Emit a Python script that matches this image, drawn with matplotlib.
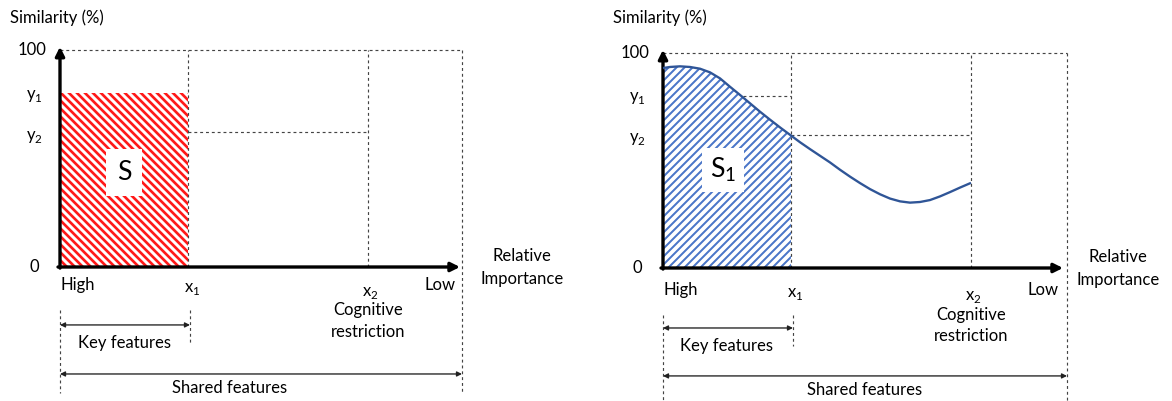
import numpy as np
import matplotlib
matplotlib.use("Agg")
import matplotlib.pyplot as plt
from matplotlib.patches import Rectangle

plt.rcParams['font.family'] = ['Lato', 'DejaVu Sans']
plt.rcParams['mathtext.fontset'] = 'custom'
plt.rcParams['mathtext.rm'] = 'Lato'
plt.rcParams['hatch.linewidth'] = 1.6

# breakpoints on the importance axis and the matching similarity levels
x1, x2 = 32, 77
y1, y2 = 80, 62

# similarity curve (right panel)
curve_x = [0, 1.75, 4.25, 6.75, 9.25, 11.75, 14.25, 16.75, 19.25, 21.75,
           24.25, 26.75, 29.25, 32, 34.25, 36.75, 39.25, 41.75, 44.25, 46.75,
           49.25, 51.75, 54.25, 56.75, 59.25, 61.75, 64.25, 66.75, 69.25,
           71.75, 74.25, 77]
curve_y = [93, 93.5, 93.8, 93.5, 92.7, 91, 88.2, 84.3, 80.5, 76.6,
           72.7, 69.0, 65.4, 61.6, 58.5, 55.3, 52.2, 49.1, 45.7, 42.5,
           39.5, 36.7, 34.3, 32.3, 31, 30.4, 30.7, 31.6, 33.3,
           35.3, 37.4, 39.6]

DPI = 120
W, H = 1172, 401
fig = plt.figure(figsize=(W / DPI, H / DPI), dpi=DPI)

FS = 10
dash = dict(color='#444444', lw=0.7, ls=(0, (2.5, 2.5)), clip_on=False)


def make_axes(px0, py0, px1, py1):
    # axes whose 0..100 box sits on the given pixel corners
    ax = fig.add_axes([px0 / W, 1 - py0 / H, (px1 - px0) / W, (py0 - py1) / H])
    ax.set_xlim(0, 100)
    ax.set_ylim(0, 100)
    ax.axis('off')
    return ax


def frame(ax, p):
    # dashed guide lines
    ax.plot([0, p['xr']], [100, 100], **dash)
    ax.plot([p['xr'], p['xr']], [100, p['bot']], **dash)
    ax.plot([x1, x1], [0, 100], **dash)
    ax.plot([x2, x2], [0, 100], **dash)
    ax.plot([x1, x2], [y2, y2], **dash)
    ax.plot([0, 0], [p['d0'], p['bot']], **dash)
    ax.plot([x1 + 0.5, x1 + 0.5], [p['d0'], p['kd']], **dash)

    # axes arrows
    arr = dict(arrowstyle='-|>', lw=2.0, color='black', mutation_scale=11,
               shrinkA=0, shrinkB=0)
    ax.annotate('', xy=(0, 101.5), xytext=(0, -0.5), arrowprops=arr,
                annotation_clip=False)
    ax.annotate('', xy=(100, 0), xytext=(-0.5, 0), arrowprops=arr,
                annotation_clip=False)

    # span arrows
    span = dict(arrowstyle='<|-|>', lw=0.8, color='#222222', mutation_scale=6,
                shrinkA=0, shrinkB=0)
    ax.annotate('', xy=(0, p['ka']), xytext=(x1 + 0.5, p['ka']),
                arrowprops=span, annotation_clip=False)
    ax.annotate('', xy=(0, p['sa']), xytext=(p['xr'], p['sa']),
                arrowprops=span, annotation_clip=False)

    t = dict(fontsize=FS, ha='center', va='center', clip_on=False)
    ax.text(-12.5, p['title'], 'Similarity (%)', ha='left', va='center',
            fontsize=FS, clip_on=False)
    ax.text(-3.5, 100, '100', ha='right', va='center', fontsize=FS)
    ax.text(-6.5, y1 - 1, r'y$_\mathregular{1}$', **t)
    ax.text(-6.5, y2 - 2, r'y$_\mathregular{2}$', **t)
    ax.text(-6.5, 0, '0', **t)
    ax.text(4.5, p['hi'], 'High', **t)
    ax.text(95, p['hi'], 'Low', **t)
    ax.text(x1 + 1, p['hi'] - 2, r'x$_\mathregular{1}$', **t)
    ax.text(x2 + 0.5, p['hi'] - 3.5, r'x$_\mathregular{2}$', **t)
    ax.text(x2, p['hi'] - 11.5, 'Cognitive', **t)
    ax.text(x2, p['hi'] - 21.5, 'restriction', **t)
    ax.text(p['rel'], 5, 'Relative', **t)
    ax.text(p['rel'], -5.5, 'Importance', **t)
    ax.text(16, p['ka'] - 8.3, 'Key features', **t)
    ax.text(p['sh'], p['sa'] - 6.6, 'Shared features', **t)


# left panel: constant similarity block
axL = make_axes(60, 267, 460, 50)
frame(axL, dict(xr=100.5, bot=-58, d0=-19.8, kd=-36, ka=-26.7, sa=-49.3,
                title=114.7, hi=-8.3, rel=115.5, sh=42.5))
block = Rectangle((0, 0), x1, y1, fill=False, hatch='\\' * 5,
                  edgecolor='#FF1A1A', lw=0, zorder=1)
if hasattr(block, 'set_hatch_linewidth'):
    block.set_hatch_linewidth(1.6)
axL.add_patch(block)
axL.text(16, 43.5, 'S', fontsize=16, ha='center', va='center',
         bbox=dict(boxstyle='square,pad=0.42', fc='white', ec='none'),
         zorder=3)

# right panel: similarity decaying with importance
axR = make_axes(663, 268, 1063, 53)
frame(axR, dict(xr=101, bot=-62, d0=-21.9, kd=-36.5, ka=-27.9, sa=-50.2,
                title=116.3, hi=-10.2, rel=113.75, sh=50.5))
cx = np.array(curve_x)
cy = np.array(curve_y)
keep = cx <= x1
area = axR.fill_between(cx[keep], 0, cy[keep], facecolor='none',
                        edgecolor='#4A76C8', hatch='/' * 5, lw=0, zorder=1)
if hasattr(area, 'set_hatch_linewidth'):
    area.set_hatch_linewidth(1.2)
axR.plot(cx, cy, color='#2F5597', lw=1.4, zorder=4, clip_on=False,
         solid_capstyle='butt', solid_joinstyle='round')
axR.plot([20, x1], [y1, y1], **dash)
axR.text(15, 45.5, r'S$_\mathregular{1}$', fontsize=16, ha='center',
         va='center', bbox=dict(boxstyle='square,pad=0.28', fc='white',
                                ec='none'), zorder=3)

fig.savefig('out.png', dpi=DPI)
